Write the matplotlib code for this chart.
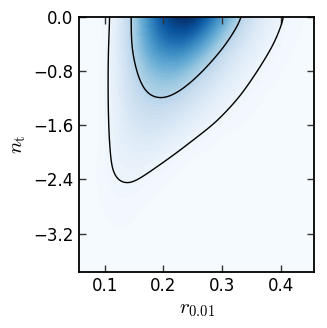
import numpy as np
import matplotlib
matplotlib.use("Agg")
import matplotlib.pyplot as plt

plt.rcParams['mathtext.fontset'] = 'cm'
plt.rcParams['font.family'] = ['DejaVu Sans']

# Posterior profile, at nodes in n_t
nt_nodes = [0.0, -0.4, -0.8, -1.2, -1.6, -2.0, -2.4, -2.8, -3.2, -3.76]
r_peak = [0.240, 0.223, 0.210, 0.196, 0.180, 0.162, 0.139, 0.130, 0.125, 0.120]
height = [0.862, 0.624, 0.393, 0.250, 0.149, 0.083, 0.043, 0.0228, 0.0123, 0.005]
width_left = [0.320, 0.314, 0.320, 0.321, 0.320, 0.320, 0.320, 0.320, 0.320, 0.320]
width_right = [0.212, 0.236, 0.252, 0.269, 0.283, 0.270, 0.270, 0.270, 0.270, 0.270]
contour_levels = [0.04, 0.25]

xticks = [0.1, 0.2, 0.3, 0.4]
yticks = [0.0, -0.8, -1.6, -2.4, -3.2]
xlim = (0.0564, 0.4564)
ylim = (-3.76, 0.0)

# build the density field
r = np.linspace(xlim[0], xlim[1], 500)
nt = np.linspace(ylim[0], ylim[1], 500)
R, NT = np.meshgrid(r, nt)
ntn = np.array(nt_nodes)[::-1]


def profile(vals, smooth=0.12):
    # piecewise-linear between nodes, then gently smoothed along n_t
    step = nt[1] - nt[0]
    pad = int(4 * smooth / step)
    ext = np.linspace(nt[0] - pad * step, nt[-1] + pad * step, len(nt) + 2 * pad)
    y = np.interp(ext, ntn, np.asarray(vals)[::-1])
    k = np.arange(-pad, pad + 1) * step
    w = np.exp(-0.5 * (k / smooth) ** 2)
    w /= w.sum()
    return np.convolve(y, w, mode='valid')


lp = profile(np.log(r_peak))
lh = profile(np.log(height))
sl = profile(width_left)
sr = profile(width_right)
d = np.log(R) - lp[:, None]
sig = np.where(d < 0, sl[:, None], sr[:, None])
Z = np.exp(lh[:, None] - 0.5 * (d / sig) ** 2)

fig = plt.figure(figsize=(3.27, 3.28), dpi=100)
ax = fig.add_axes([79 / 327, 1 - 271.7 / 328, (314.3 - 79) / 327, (271.7 - 16.6) / 328])
ax.contourf(R, NT, Z, levels=np.linspace(0, Z.max(), 60), cmap='Blues')
ax.contour(R, NT, Z, levels=contour_levels, colors='k', linewidths=1.0)

ax.set_xlim(*xlim)
ax.set_ylim(*ylim)
ax.set_xticks(xticks)
ax.set_yticks(yticks)
ax.set_xticklabels([f"{v:.1f}" for v in xticks])
ax.set_yticklabels([f"{v:.1f}".replace('-', '\u2212') for v in yticks])
ax.tick_params(direction='in', top=True, right=True, length=5, width=1, labelsize=12, color='#333333', pad=4)
for s in ax.spines.values():
    s.set_linewidth(1.3)
ax.set_xlabel(r'$r_{0.01}$', fontsize=15, labelpad=3)
ax.set_ylabel(r'$n_{\rm t}$', fontsize=15, labelpad=4)

fig.savefig('out.png', dpi=100)
